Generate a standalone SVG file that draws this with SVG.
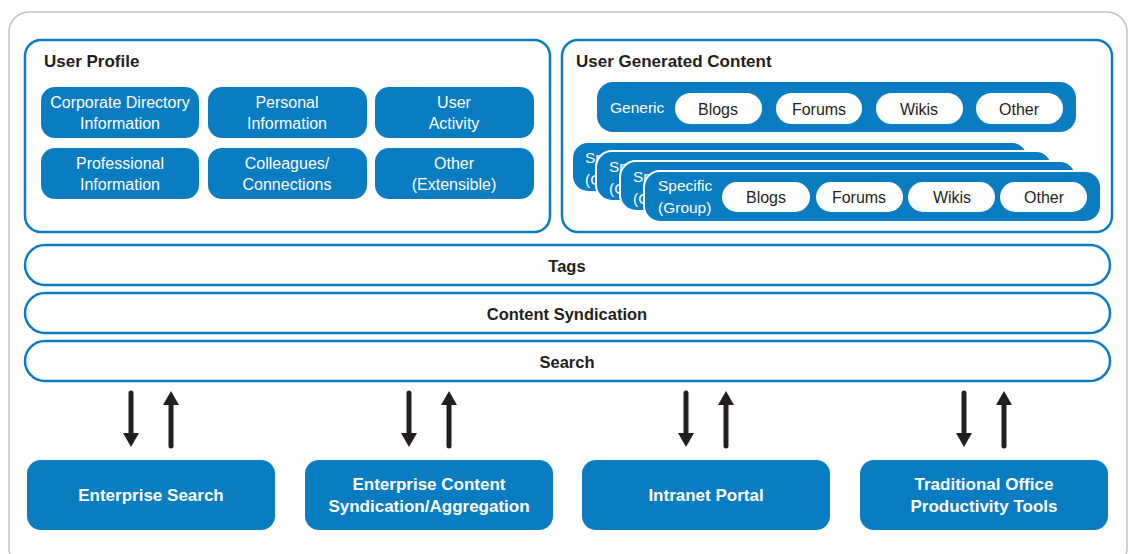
<svg xmlns="http://www.w3.org/2000/svg" width="1129" height="554" viewBox="0 0 1129 554">
<defs>
<style>
text{font-family:"Liberation Sans","Noto Sans",Arial,sans-serif}
.frame{fill:#fff;stroke:#c4c4c4;stroke-width:1.5}
.panel{fill:#fff;stroke:#0a7cc2;stroke-width:2.5}
.blue{fill:#0a7cc2}
.stack{fill:#0a7cc2;stroke:#fff;stroke-width:2}
.pill{fill:#fff}
.bar{fill:#fff;stroke:#0a7cc2;stroke-width:2.5}
.t{font-size:17px;font-weight:bold;fill:#231f20}
.w{font-size:16px;fill:#fff;text-anchor:middle}
.wl{font-size:15.5px;fill:#fff}
.d{font-size:16px;fill:#231f20;text-anchor:middle}
.bt{font-size:16.5px;font-weight:bold;fill:#231f20;text-anchor:middle}
.bw{font-size:17px;font-weight:bold;fill:#fff;text-anchor:middle}
.arr{stroke:#231f20;stroke-width:5;stroke-linecap:round;fill:none}
.head{fill:#231f20}
</style>
</defs>
<rect class="frame" x="9" y="12" width="1118" height="556" rx="20"/>

<g id="user-profile">
<rect class="panel" x="25" y="40" width="525" height="192" rx="16"/>
<text class="t" x="44" y="67">User Profile</text>
<g id="corp-dir"><rect class="blue" x="41" y="87" width="158" height="51" rx="14"/><text class="w" x="120" y="108">Corporate Directory</text><text class="w" x="120" y="129">Information</text></g>
<g id="personal"><rect class="blue" x="208" y="87" width="159" height="51" rx="14"/><text class="w" x="287" y="108">Personal</text><text class="w" x="287" y="129">Information</text></g>
<g id="activity"><rect class="blue" x="375" y="87" width="159" height="51" rx="14"/><text class="w" x="454" y="108">User</text><text class="w" x="454" y="129">Activity</text></g>
<g id="professional"><rect class="blue" x="41" y="148" width="158" height="51" rx="14"/><text class="w" x="120" y="169">Professional</text><text class="w" x="120" y="190">Information</text></g>
<g id="colleagues"><rect class="blue" x="208" y="148" width="159" height="51" rx="14"/><text class="w" x="287" y="169">Colleagues/</text><text class="w" x="287" y="190">Connections</text></g>
<g id="other-ext"><rect class="blue" x="375" y="148" width="159" height="51" rx="14"/><text class="w" x="454" y="169">Other</text><text class="w" x="454" y="190">(Extensible)</text></g>
</g>

<g id="ugc">
<rect class="panel" x="562" y="40" width="550" height="192" rx="16"/>
<text class="t" x="576" y="67">User Generated Content</text>
<g id="generic">
<rect class="blue" x="597" y="82" width="479" height="50" rx="16"/>
<text class="wl" x="610" y="113">Generic</text>
<rect class="pill" x="675" y="93" width="87" height="31" rx="15.5"/><text class="d" x="718" y="115">Blogs</text>
<rect class="pill" x="776" y="93" width="86" height="31" rx="15.5"/><text class="d" x="819" y="115">Forums</text>
<rect class="pill" x="876" y="93" width="87" height="31" rx="15.5"/><text class="d" x="919" y="115">Wikis</text>
<rect class="pill" x="976" y="93" width="87" height="31" rx="15.5"/><text class="d" x="1019" y="115">Other</text>
</g>
<g id="specific-3"><rect class="stack" x="572" y="142" width="456" height="50" rx="16"/><text class="wl" x="585" y="163">Sp</text><text class="wl" x="585" y="185">(G</text></g>
<g id="specific-2"><rect class="stack" x="596" y="151" width="456" height="50" rx="16"/><text class="wl" x="609" y="172">Sp</text><text class="wl" x="609" y="194">(G</text></g>
<g id="specific-1"><rect class="stack" x="620" y="161" width="456" height="50" rx="16"/><text class="wl" x="633" y="182">Sp</text><text class="wl" x="633" y="204">(G</text></g>
<g id="specific">
<rect class="stack" x="644" y="171" width="457" height="51" rx="16"/>
<text class="wl" x="658" y="191">Specific</text><text class="wl" x="658" y="213">(Group)</text>
<rect class="pill" x="722" y="182" width="88" height="30" rx="15"/><text class="d" x="766" y="203">Blogs</text>
<rect class="pill" x="816" y="182" width="87" height="30" rx="15"/><text class="d" x="859" y="203">Forums</text>
<rect class="pill" x="908" y="182" width="87" height="30" rx="15"/><text class="d" x="952" y="203">Wikis</text>
<rect class="pill" x="1000" y="182" width="87" height="30" rx="15"/><text class="d" x="1044" y="203">Other</text>
</g>
</g>

<g id="tags"><rect class="bar" x="25" y="245" width="1085" height="40" rx="20"/><text class="bt" x="567" y="272">Tags</text></g>
<g id="content-syndication"><rect class="bar" x="25" y="293" width="1085" height="40" rx="20"/><text class="bt" x="567" y="320">Content Syndication</text></g>
<g id="search"><rect class="bar" x="25" y="341" width="1085" height="40" rx="20"/><text class="bt" x="567" y="368">Search</text></g>

<g id="connectors">
<line class="arr" x1="131" y1="393" x2="131" y2="434"/><polygon class="head" points="123,433 139,433 131,447"/>
<line class="arr" x1="171" y1="446" x2="171" y2="404"/><polygon class="head" points="163,405 179,405 171,391"/>
<line class="arr" x1="409" y1="393" x2="409" y2="434"/><polygon class="head" points="401,433 417,433 409,447"/>
<line class="arr" x1="449" y1="446" x2="449" y2="404"/><polygon class="head" points="441,405 457,405 449,391"/>
<line class="arr" x1="686" y1="393" x2="686" y2="434"/><polygon class="head" points="678,433 694,433 686,447"/>
<line class="arr" x1="726" y1="446" x2="726" y2="404"/><polygon class="head" points="718,405 734,405 726,391"/>
<line class="arr" x1="964" y1="393" x2="964" y2="434"/><polygon class="head" points="956,433 972,433 964,447"/>
<line class="arr" x1="1004" y1="446" x2="1004" y2="404"/><polygon class="head" points="996,405 1012,405 1004,391"/>
</g>

<g id="enterprise-search"><rect class="blue" x="27" y="460" width="248" height="70" rx="14"/><text class="bw" x="151" y="501">Enterprise Search</text></g>
<g id="enterprise-content"><rect class="blue" x="305" y="460" width="248" height="70" rx="14"/><text class="bw" x="429" y="490">Enterprise Content</text><text class="bw" x="429" y="512">Syndication/Aggregation</text></g>
<g id="intranet-portal"><rect class="blue" x="582" y="460" width="248" height="70" rx="14"/><text class="bw" x="706" y="501">Intranet Portal</text></g>
<g id="office-tools"><rect class="blue" x="860" y="460" width="248" height="70" rx="14"/><text class="bw" x="984" y="490">Traditional Office</text><text class="bw" x="984" y="512">Productivity Tools</text></g>
</svg>
